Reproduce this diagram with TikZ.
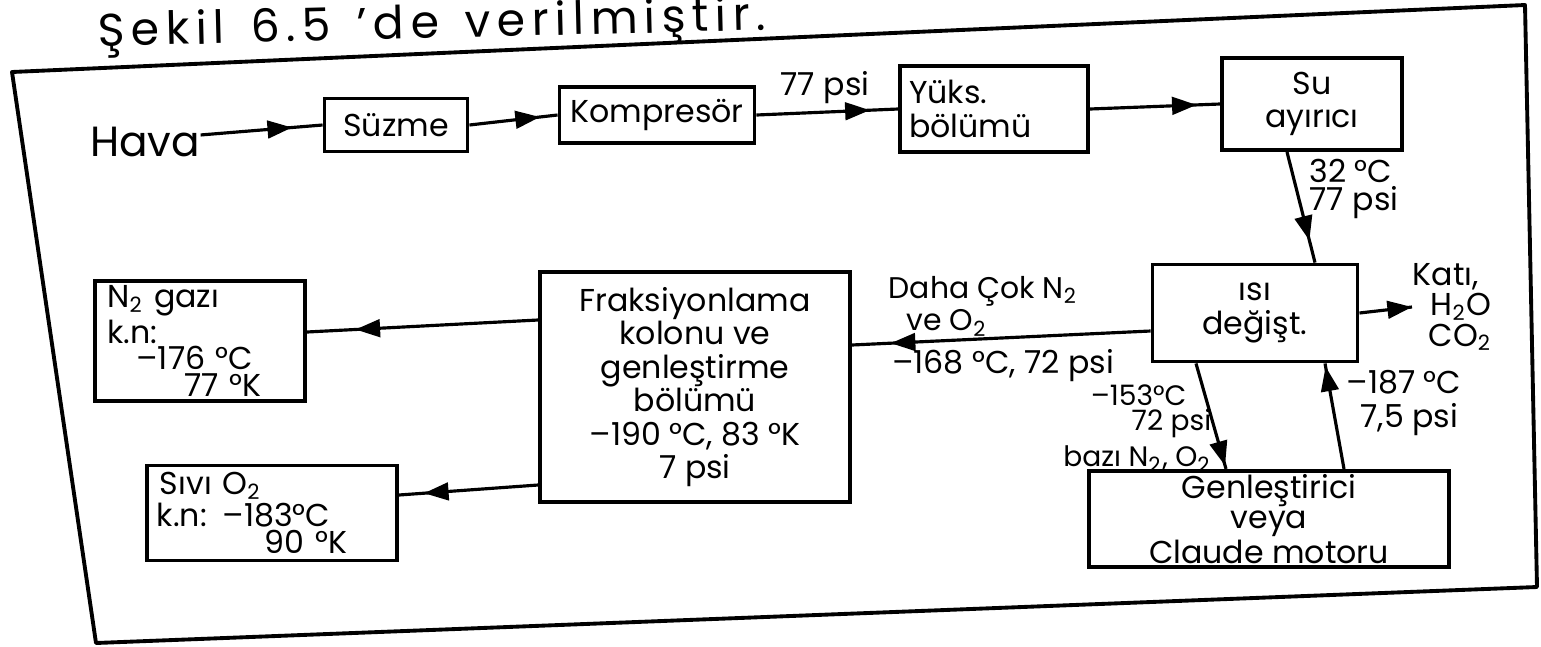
\documentclass[tikz,border=0pt]{standalone}
\usepackage{fontspec}
\setmainfont{Poppins}
\usetikzlibrary{arrows.meta,decorations.markings}
\newcommand{\altyaz}[1]{\textsubscript{#1}}
\tikzset{
  blok/.style={draw, line width=1.1pt, inner sep=1pt, align=center},
  yazi/.style={inner sep=0pt},
  akis/.style={line width=0.9pt, decoration={markings,
      mark=at position #1 with {\arrow{Triangle[length=7pt,width=5pt]}}},
    postaction={decorate}},
  akis/.default=0.8,
  cerceve/.style={line width=1.1pt, line join=round}
}
\begin{document}
\begin{tikzpicture}[font=\fontsize{9}{9.5}\selectfont]
\useasboundingbox (0,0) rectangle (15.41,-6.46);
\node[yazi, rotate=1.4, font=\fontsize{13}{13}\selectfont\addfontfeature{LetterSpace=14}] (baslik) at (4.32,-0.27) {Şekil\, 6.5\, 'de\, verilmiştir.};
\draw[cerceve] (0.12,-0.72) -- (15.25,-0.05) -- (15.37,-5.87) -- (0.96,-6.43) -- cycle;

\node[yazi, font=\fontsize{12}{12}\selectfont] (hava) at (1.45,-1.42) {Hava};
\node[blok, minimum width=1.43cm, minimum height=0.53cm] (suzme) at (3.96,-1.25) {Süzme};
\node[blok, minimum width=1.95cm, minimum height=0.56cm] (komp) at (6.57,-1.15) {Kompresör};
\node[blok, minimum width=1.88cm, minimum height=0.86cm, text width=1.7cm, align=left] (yuks) at (9.94,-1.09) {Yüks.\\bölümü};
\node[blok, minimum width=1.8cm, minimum height=0.92cm] (su) at (13.12,-1.04) {Su\\ayırıcı};
\node[blok, minimum width=2.05cm, minimum height=0.97cm] (isi) at (12.55,-3.13) {ısı\\değişt.};
\node[blok, minimum width=3.1cm, minimum height=2.3cm] (fraks) at (6.95,-3.87) {Fraksiyonlama\\kolonu ve\\genleştirme\\bölümü\\–190 °C, 83 °K\\7 psi};
\node[blok, minimum width=2.1cm, minimum height=1.2cm, text width=1.85cm, align=left, font=\fontsize{9}{7.5}\selectfont] (n2) at (2.0,-3.41) {N\altyaz{2} gazı\\k.n:\\\hspace*{0.29cm}–176 °C\\\hspace*{0.77cm}77 °K};
\node[blok, minimum width=2.5cm, minimum height=0.95cm, text width=2.3cm, align=left, font=\fontsize{9}{7.8}\selectfont] (sivi) at (2.72,-5.13) {\hspace*{0.03cm}Sıvı O\altyaz{2}\\k.n: –183°C\\\hspace*{1.08cm}90 °K};
\node[blok, minimum width=3.6cm, minimum height=0.96cm, font=\fontsize{9}{8.5}\selectfont] (genl) at (12.69,-5.19) {Genleştirici\\veya\\Claude motoru};

\node[yazi] (psi1) at (8.25,-0.88) {77 psi};
\node[yazi, anchor=west, align=left, font=\fontsize{9}{8}\selectfont] (sicak) at (13.09,-1.89) {32 °C\\77 psi};
\node[yazi, anchor=west, align=left, font=\fontsize{9}{7.5}\selectfont] (kati) at (14.12,-3.07) {Katı,\\\hspace*{0.18cm}H\altyaz{2}O\\\hspace*{0.16cm}CO\altyaz{2}};
\node[yazi, anchor=west, align=left, font=\fontsize{8.5}{6.5}\selectfont] (daha) at (8.88,-3.06) {Daha Çok N\altyaz{2}\\\hspace*{0.18cm}ve O\altyaz{2}};
\node[yazi] (eksi168) at (10.03,-3.66) {–168 °C, 72 psi};
\node[yazi, anchor=north east, align=right, font=\fontsize{8}{7.2}\selectfont] (eksi153) at (12.12,-3.84) {–153°C\hspace*{0.25cm}\\72 psi\hspace*{0.12cm}\\[1.2pt]bazı N\altyaz{2}, O\altyaz{2}};
\node[yazi, anchor=west, align=left] (eksi187) at (13.46,-4.03) {–187 °C\\\hspace*{0.14cm}7,5 psi};

\draw[akis=0.75] ([yshift=2pt]hava.east) -- (suzme.west);
\draw[akis=0.8] (suzme.east) -- (komp.west);
\draw[akis=0.8] (komp.east) -- (yuks.west);
\draw[akis=0.82] (yuks.east) -- (su.west);
\draw[akis=0.8] ([xshift=-0.25cm]su.south) -- ([xshift=0.6cm]isi.north);
\draw[akis=1] (isi.east) -- (kati.west);
\draw[akis=0.87] ([yshift=-0.18cm]isi.west) -- ([yshift=0.42cm]fraks.east);
\draw[akis=0.79] ([yshift=0.67cm]fraks.west) -- ([yshift=0.09cm]n2.east);
\draw[akis=0.82] ([yshift=-0.98cm]fraks.west) -- ([yshift=0.18cm]sivi.east);
\draw[akis=0.97] ([xshift=-0.59cm]isi.south) -- ([xshift=-0.43cm]genl.north);
\draw[akis=0.97] ([xshift=0.75cm]genl.north) -- ([xshift=0.70cm]isi.south);
\end{tikzpicture}
\end{document}
